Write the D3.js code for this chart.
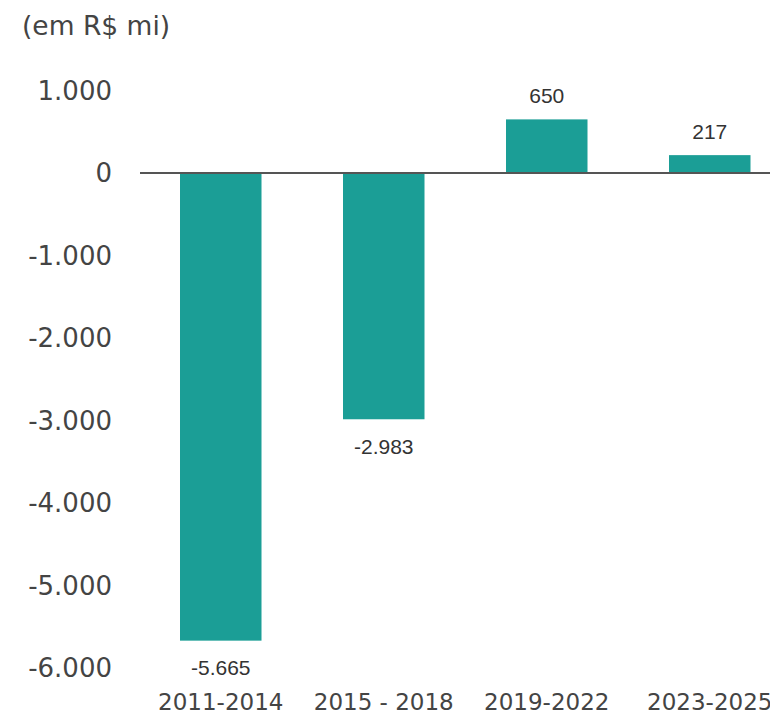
<!DOCTYPE html>
<html>
<head>
<meta charset="utf-8">
<script src="https://cdn.jsdelivr.net/npm/d3@7"></script>
<style>
  body { margin: 0; background: #fff; }
</style>
</head>
<body>
<div id="chart"></div>
<script>
var periods = ["2011-2014", "2015 - 2018", "2019-2022", "2023-2025"];
var values = [-5665, -2983, 650, 217];
var yTicks = [1000, 0, -1000, -2000, -3000, -4000, -5000, -6000];

var W = 770, H = 714;
var fmt = d3.formatLocale({ decimal: ",", thousands: ".", grouping: [3], currency: ["R$", ""], minus: "-" }).format(",d");

var svg = d3.select("#chart").append("svg")
  .attr("width", W).attr("height", H);

var x = d3.scaleBand().domain(periods).range([98.5, 832]).padding(0.5);
var y = d3.scaleLinear().domain([-6000, 1000]).range([668.3, 90.5]);

// title
svg.append("text").attr("x", 22).attr("y", 25)
  .attr("dominant-baseline", "central")
  .style("font-family", "DejaVu Sans").style("font-size", "26.5px").style("fill", "#444")
  .text("(em R$ mi)");

// y axis labels
svg.append("g").selectAll("text").data(yTicks).join("text")
  .attr("x", 112).attr("y", function (d) { return y(d); })
  .attr("text-anchor", "end").attr("dominant-baseline", "central")
  .style("font-family", "DejaVu Sans").style("font-size", "26px").style("fill", "#444")
  .text(function (d) { return fmt(d); });

// bars
svg.append("g").selectAll("rect").data(values).join("rect")
  .attr("x", function (d, i) { return x(periods[i]); })
  .attr("width", x.bandwidth())
  .attr("y", function (d) { return y(Math.max(0, d)); })
  .attr("height", function (d) { return Math.abs(y(d) - y(0)); })
  .attr("fill", "#1b9e96");

// zero line
svg.append("line")
  .attr("x1", 140).attr("x2", W)
  .attr("y1", y(0)).attr("y2", y(0))
  .attr("stroke", "#555").attr("stroke-width", 2);

// value labels
svg.append("g").selectAll("text").data(values).join("text")
  .attr("x", function (d, i) { return x(periods[i]) + x.bandwidth() / 2; })
  .attr("y", function (d) { return d >= 0 ? y(d) - 24 : y(d) + 27; })
  .attr("text-anchor", "middle").attr("dominant-baseline", "central")
  .style("font-family", "Liberation Sans, Arial").style("font-size", "21px").style("fill", "#333")
  .text(function (d) { return fmt(d); });

// category labels
svg.append("g").selectAll("text").data(periods).join("text")
  .attr("x", function (d) { return x(d) + x.bandwidth() / 2; })
  .attr("y", 702)
  .attr("text-anchor", "middle").attr("dominant-baseline", "central")
  .style("font-family", "DejaVu Sans").style("font-size", "23px").style("fill", "#444")
  .text(function (d) { return d; });
</script>
</body>
</html>
